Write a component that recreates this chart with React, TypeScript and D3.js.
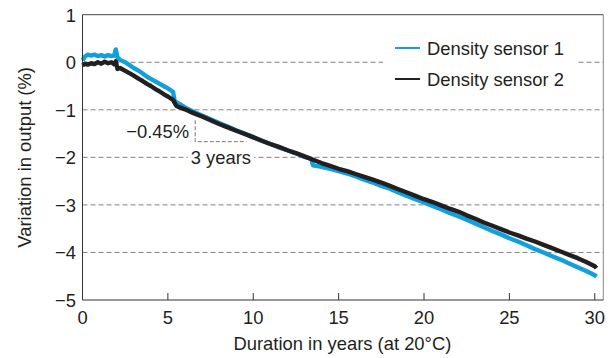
import React, { useEffect } from "react";
import * as d3 from "d3";

// [years, % variation]
const sensor1: [number, number][] = [
  [0, 0.04], [0.15, 0.12], [0.3, 0.16], [0.5, 0.14], [0.7, 0.16], [0.9, 0.13], [1.1, 0.15],
  [1.3, 0.12], [1.5, 0.15], [1.7, 0.13], [1.85, 0.14], [1.95, 0.27], [2.05, 0.1], [2.2, 0.05],
  [2.5, 0.0], [2.8, -0.07], [3.0, -0.12], [3.3, -0.18], [3.5, -0.23], [3.8, -0.31], [4.0, -0.35],
  [4.3, -0.41], [4.5, -0.45], [4.8, -0.51], [5.0, -0.55], [5.3, -0.62], [5.4, -0.82], [5.7, -0.88],
  [6.0, -0.95], [6.5, -1.04], [7.0, -1.12], [7.5, -1.2], [8.0, -1.28], [8.5, -1.35], [9.0, -1.43],
  [9.5, -1.5], [10.0, -1.57], [10.5, -1.65], [11.0, -1.72], [11.5, -1.79], [12.0, -1.85],
  [12.5, -1.92], [13.0, -1.99], [13.4, -2.03], [13.5, -2.17], [14.0, -2.2], [14.5, -2.24],
  [15.0, -2.29], [15.5, -2.34], [16.0, -2.4], [16.5, -2.47], [17.0, -2.53], [17.5, -2.6],
  [18.0, -2.66], [18.5, -2.74], [19.0, -2.81], [19.5, -2.88], [20.0, -2.95], [20.5, -3.02],
  [21.0, -3.09], [21.5, -3.17], [22.0, -3.24], [22.5, -3.31], [23.0, -3.39], [23.5, -3.47],
  [24.0, -3.55], [24.5, -3.62], [25.0, -3.7], [25.5, -3.77], [26.0, -3.85], [26.5, -3.93],
  [27.0, -4.0], [27.5, -4.08], [28.0, -4.15], [28.5, -4.23], [29.0, -4.31], [29.5, -4.39],
  [30.0, -4.48], [30.1, -4.51],
];

const sensor2: [number, number][] = [
  [0, -0.07], [0.15, -0.03], [0.3, -0.05], [0.5, -0.02], [0.7, -0.04], [0.9, 0.0], [1.1, -0.03],
  [1.3, 0.01], [1.5, -0.02], [1.7, 0.0], [1.85, -0.04], [1.95, 0.02], [2.05, -0.14], [2.2, -0.12],
  [2.5, -0.18], [2.8, -0.24], [3.0, -0.28], [3.3, -0.35], [3.5, -0.39], [3.8, -0.46], [4.0, -0.5],
  [4.3, -0.57], [4.5, -0.61], [4.8, -0.68], [5.0, -0.72], [5.3, -0.79], [5.5, -0.92], [5.7, -0.95],
  [6.0, -0.99], [6.5, -1.07], [7.0, -1.14], [7.5, -1.22], [8.0, -1.3], [8.5, -1.37], [9.0, -1.44],
  [9.5, -1.51], [10.0, -1.58], [10.5, -1.65], [11.0, -1.72], [11.5, -1.78], [12.0, -1.85],
  [12.5, -1.91], [13.0, -1.98], [13.5, -2.05], [14.0, -2.12], [14.5, -2.18], [15.0, -2.24],
  [15.5, -2.29], [16.0, -2.35], [16.5, -2.41], [17.0, -2.47], [17.5, -2.53], [18.0, -2.6],
  [18.5, -2.67], [19.0, -2.74], [19.5, -2.81], [20.0, -2.88], [20.5, -2.94], [21.0, -3.01],
  [21.5, -3.08], [22.0, -3.14], [22.5, -3.22], [23.0, -3.29], [23.5, -3.37], [24.0, -3.44],
  [24.5, -3.51], [25.0, -3.58], [25.5, -3.64], [26.0, -3.71], [26.5, -3.77], [27.0, -3.84],
  [27.5, -3.91], [28.0, -3.98], [28.5, -4.05], [29.0, -4.12], [29.5, -4.2], [30.0, -4.29],
  [30.1, -4.33],
];

const seriesNames = ["Density sensor 1", "Density sensor 2"];
const seriesColors = ["#12a0dc", "#231f20"];
const xTicks = [0, 5, 10, 15, 20, 25, 30];
const yTicks = [1, 0, -1, -2, -3, -4, -5];
const gridValues = [0, -1, -2, -3, -4];
// slope annotation: start year, span in years, start value, drop in %
const slopeNote = { t0: 6.6, span: 3, v0: -1.22, drop: 0.45 };

const W = 612;
const H = 358;
const FONT = "'Liberation Sans', Arial, Helvetica, sans-serif";
const FS = 18.4;

export default function App() {
  useEffect(() => {
    document.body.style.margin = "0";
  }, []);

  const x = d3.scaleLinear().domain([0, 30.5]).range([82.5, 603.3]);
  const y = d3.scaleLinear().domain([-5, 1]).range([300, 14.7]);
  const line = d3
    .line<[number, number]>()
    .x((d) => x(d[0]))
    .y((d) => y(d[1]));

  const left = x(0);
  const right = x(30.5);
  const top = y(1);
  const bottom = y(-5);

  const nx0 = x(slopeNote.t0);
  const nx1 = x(slopeNote.t0 + slopeNote.span);
  const ny0 = y(slopeNote.v0);
  const ny1 = y(slopeNote.v0 - slopeNote.drop);

  return (
    <svg width={W} height={H} style={{ display: "block", background: "#fff" }} fontFamily={FONT}>
      {/* grid */}
      {gridValues.map((v) => (
        <line key={v} x1={left} x2={right} y1={y(v)} y2={y(v)} stroke="#808080" strokeDasharray="5,3" />
      ))}

      {/* "3 years" label knocks out the grid */}
      <rect x={(nx0 + nx1) / 2 - 33} y={y(-2) - 8} width={66} height={16} fill="#fff" />
      <text x={(nx0 + nx1) / 2} y={y(-2) + 6.8} textAnchor="middle" fontSize={FS} fill="#231f20">
        3 years
      </text>

      {/* legend background knocks out the 0 gridline */}
      <rect x={383} y={32} width={194} height={60} fill="#fff" />

      {/* series */}
      <path d={line(sensor1) ?? ""} fill="none" stroke={seriesColors[0]} strokeWidth={4.4} strokeLinejoin="round" />
      <path d={line(sensor2) ?? ""} fill="none" stroke={seriesColors[1]} strokeWidth={4.4} strokeLinejoin="round" />

      {/* slope bracket */}
      <path
        d={`M${nx0},${ny0}V${ny1}H${nx1}`}
        fill="none"
        stroke="#777"
        strokeDasharray="4,2"
      />
      <text x={nx0 - 6} y={ny1 - 4} textAnchor="end" fontSize={FS} fill="#231f20">
        −0.45%
      </text>

      {/* frame */}
      <line x1={left} x2={right} y1={top} y2={top} stroke="#444" />
      <line x1={right} x2={right} y1={top} y2={bottom} stroke="#888" />
      <line x1={left} x2={left} y1={top} y2={bottom} stroke="#333" />
      <line x1={left} x2={right} y1={bottom} y2={bottom} stroke="#333" />

      {/* x ticks */}
      {xTicks.map((t) => (
        <g key={t}>
          {t > 0 && <line x1={x(t)} x2={x(t)} y1={bottom} y2={bottom - 7} stroke="#333" />}
          <text x={x(t)} y={bottom + 24} textAnchor="middle" fontSize={FS} fill="#231f20">
            {t}
          </text>
        </g>
      ))}

      {/* y tick labels */}
      {yTicks.map((v) => (
        <text key={v} x={76} y={y(v) + 6.8} textAnchor="end" fontSize={FS} fill="#231f20">
          {v < 0 ? `−${-v}` : v}
        </text>
      ))}

      {/* axis titles */}
      <text x={(left + right) / 2 - 0.5} y={350} textAnchor="middle" fontSize={FS} fill="#231f20">
        Duration in years (at 20°C)
      </text>
      <text
        transform={`translate(31,${(top + bottom) / 2}) rotate(-90)`}
        textAnchor="middle"
        fontSize={FS}
        fill="#231f20"
      >
        Variation in output (%)
      </text>

      {/* legend */}
      {seriesNames.map((name, i) => (
        <g key={name} transform={`translate(395,${48 + i * 31})`}>
          <line x1={0} x2={25} y1={0} y2={0} stroke={seriesColors[i]} strokeWidth={2} />
          <text x={32} y={6.8} fontSize={FS} fill="#231f20">
            {name}
          </text>
        </g>
      ))}
    </svg>
  );
}
